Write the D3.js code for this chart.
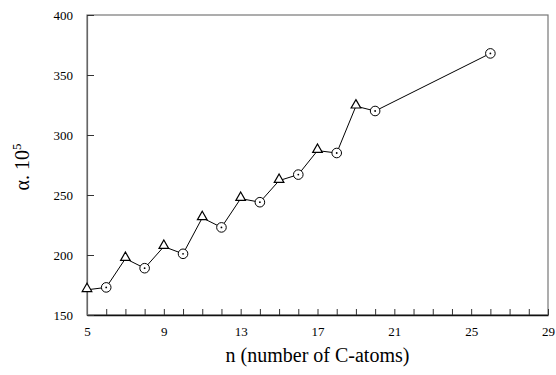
<!DOCTYPE html>
<html>
<head>
<meta charset="utf-8">
<script src="https://cdn.jsdelivr.net/npm/d3@7"></script>
<style>
  body { margin: 0; background: #fff; }
  text { font-family: "Liberation Serif", "Times New Roman", serif; fill: #000; }
</style>
</head>
<body>
<div id="chart"></div>
<script>
// n = number of C-atoms, alpha.10^5 values
var nValues = [5, 6, 7, 8, 9, 10, 11, 12, 13, 14, 15, 16, 17, 18, 19, 20, 26];
var alphaValues = [171, 173, 197, 189, 207, 201, 231, 223, 247, 244, 262, 267, 287, 285, 324, 320, 368];
// odd n plotted as triangles, even n as circles
var markerTypes = ["tri", "circ", "tri", "circ", "tri", "circ", "tri", "circ", "tri", "circ",
                   "tri", "circ", "tri", "circ", "tri", "circ", "circ"];
var xTickLabels = [5, 9, 13, 17, 21, 25, 29];
var yTickLabels = [150, 200, 250, 300, 350, 400];

var w = 556, h = 375;
var margin = {left: 87, right: 8, top: 15, bottom: 60};

var data = nValues.map(function(n, i) {
  return {n: n, a: alphaValues[i], type: markerTypes[i]};
});

var x = d3.scaleLinear().domain([5, 29]).range([margin.left, w - margin.right]);
var y = d3.scaleLinear().domain([150, 400]).range([h - margin.bottom, margin.top]);

var svg = d3.select("#chart").append("svg")
    .attr("width", w)
    .attr("height", h);

// frame
svg.append("rect")
    .attr("x", x(5)).attr("y", y(400))
    .attr("width", x(29) - x(5)).attr("height", y(150) - y(400))
    .attr("fill", "none")
    .attr("stroke", "#777")
    .attr("stroke-width", 1.2);

// bottom axis, ticks pointing up at every integer
var xAxis = d3.axisBottom(x)
    .tickValues(d3.range(5, 30))
    .tickSizeInner(-6)
    .tickSizeOuter(0)
    .tickFormat(function(d) { return xTickLabels.indexOf(d) >= 0 ? d : ""; });

var gx = svg.append("g")
    .attr("transform", "translate(0," + y(150) + ")")
    .call(xAxis);
gx.select(".domain").attr("stroke", "#111").attr("stroke-width", 1.3);
gx.selectAll(".tick line").attr("stroke", "#333");
gx.selectAll(".tick text")
    .attr("y", 12)
    .style("font-size", "13px");

// left axis, ticks pointing right
var yAxis = d3.axisLeft(y)
    .tickValues(yTickLabels)
    .tickSizeInner(-7)
    .tickSizeOuter(0)
    .tickPadding(14);

var gy = svg.append("g")
    .attr("transform", "translate(" + x(5) + ",0)")
    .call(yAxis);
gy.select(".domain").attr("stroke", "#666").attr("stroke-width", 1.2);
gy.selectAll(".tick line").attr("stroke", "#333");
gy.selectAll(".tick text").style("font-size", "13px");

// line
var line = d3.line()
    .x(function(d) { return x(d.n); })
    .y(function(d) { return y(d.a); });

svg.append("path")
    .datum(data)
    .attr("d", line)
    .attr("fill", "none")
    .attr("stroke", "#000")
    .attr("stroke-width", 1);

// markers
var tri = d3.symbol().type(d3.symbolTriangle).size(40);

var marks = svg.selectAll("g.mark")
    .data(data)
    .enter().append("g")
    .attr("class", "mark")
    .attr("transform", function(d) { return "translate(" + x(d.n) + "," + y(d.a) + ")"; });

marks.filter(function(d) { return d.type == "tri"; })
    .append("path")
    .attr("d", tri)
    .attr("transform", "translate(0,-1)")
    .attr("fill", "#fff")
    .attr("stroke", "#000")
    .attr("stroke-width", 1.2);

marks.filter(function(d) { return d.type == "circ"; })
    .append("circle")
    .attr("r", 4.8)
    .attr("fill", "#fff")
    .attr("stroke", "#000")
    .attr("stroke-width", 1);

marks.filter(function(d) { return d.type == "circ"; })
    .append("circle")
    .attr("r", 0.9)
    .attr("fill", "#000");

// axis titles
svg.append("text")
    .attr("x", (x(5) + x(29)) / 2)
    .attr("y", 362)
    .attr("text-anchor", "middle")
    .style("font-size", "20px")
    .text("n (number of C-atoms)");

var yl = svg.append("text")
    .attr("transform", "translate(29," + 167 + ") rotate(-90)")
    .attr("text-anchor", "middle")
    .style("font-size", "20px");
yl.append("tspan").text("\u03b1. 10");
yl.append("tspan").attr("dy", -8).style("font-size", "13px").text("5");
</script>
</body>
</html>
